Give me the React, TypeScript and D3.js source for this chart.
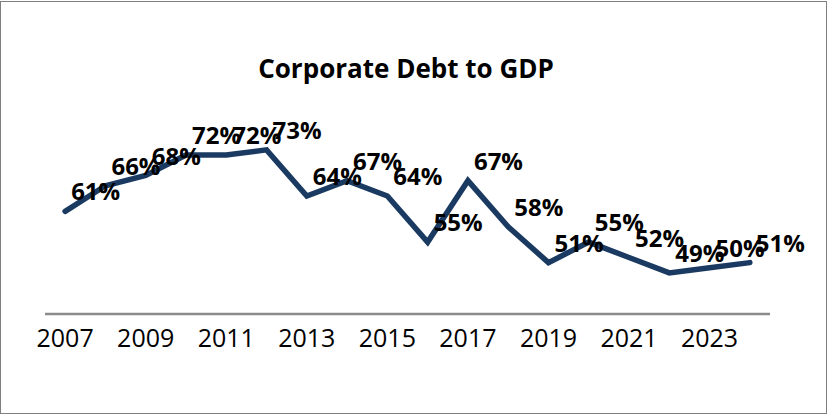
import { useEffect, useRef } from "react";
import * as d3 from "d3";

const years = [
  2007, 2008, 2009, 2010, 2011, 2012, 2013, 2014, 2015, 2016, 2017, 2018, 2019, 2020, 2021, 2022, 2023, 2024,
];
const debtToGdp = [61, 66, 68, 72, 72, 73, 64, 67, 64, 55, 67, 58, 51, 55, 52, 49, 50, 51];
const tickYears = [2007, 2009, 2011, 2013, 2015, 2017, 2019, 2021, 2023];
const title = "Corporate Debt to GDP";

const App = () => {
  const svgRef = useRef<SVGSVGElement | null>(null);

  useEffect(() => {
    const width = 828;
    const height = 415;
    const font = "'Open Sans', 'Noto Sans', sans-serif";

    const svg = d3.select(svgRef.current).attr("width", width).attr("height", height);
    svg.selectAll("*").remove();

    // frame
    svg
      .append("rect")
      .attr("x", 0.5)
      .attr("y", 1.5)
      .attr("width", 826)
      .attr("height", 412)
      .attr("fill", "white")
      .attr("stroke", "#7f7f7f")
      .attr("stroke-width", 1);

    svg
      .append("text")
      .attr("x", 406)
      .attr("y", 78)
      .attr("text-anchor", "middle")
      .attr("font-family", font)
      .attr("font-weight", 700)
      .attr("font-size", 26)
      .attr("fill", "#000")
      .text(title);

    // Scales
    const x = d3
      .scaleBand<number>()
      .domain(years)
      .range([45, 770])
      .padding(0);
    const cx = (yr: number) => (x(yr) ?? 0) + x.bandwidth() / 2;

    const y = d3.scaleLinear().domain([40, 80]).range([319, 114]);

    // Axis line + labels (plot bottom)
    const axisY = 314;
    svg
      .append("line")
      .attr("x1", 45)
      .attr("x2", 770)
      .attr("y1", axisY)
      .attr("y2", axisY)
      .attr("stroke", "#8c8c8c")
      .attr("stroke-width", 2.5);

    svg
      .append("g")
      .selectAll("text")
      .data(tickYears)
      .join("text")
      .attr("x", (d) => cx(d))
      .attr("y", axisY + 33)
      .attr("text-anchor", "middle")
      .attr("font-family", font)
      .attr("font-size", 25)
      .attr("fill", "#000")
      .text((d) => String(d));

    // Line
    const rows = years.map((yr, i) => ({ year: yr, value: debtToGdp[i] }));
    const line = d3
      .line<{ year: number; value: number }>()
      .x((d) => cx(d.year))
      .y((d) => y(d.value));

    svg
      .append("path")
      .datum(rows)
      .attr("d", line)
      .attr("fill", "none")
      .attr("stroke", "#1b3a61")
      .attr("stroke-width", 5.5)
      .attr("stroke-linejoin", "miter")
      .attr("stroke-linecap", "round");

    // Data labels
    svg
      .append("g")
      .selectAll("text")
      .data(rows)
      .join("text")
      .attr("x", (d) => cx(d.year) + 6)
      .attr("y", (d) => y(d.value) - 11)
      .attr("font-family", font)
      .attr("font-weight", 700)
      .attr("font-size", 24)
      .attr("fill", "#000")
      .text((d) => `${d.value}%`);
  }, []);

  return (
    <div style={{ position: "absolute", left: 0, top: 0 }}>
      <svg ref={svgRef} style={{ display: "block" }} />
    </div>
  );
};

export default App;
